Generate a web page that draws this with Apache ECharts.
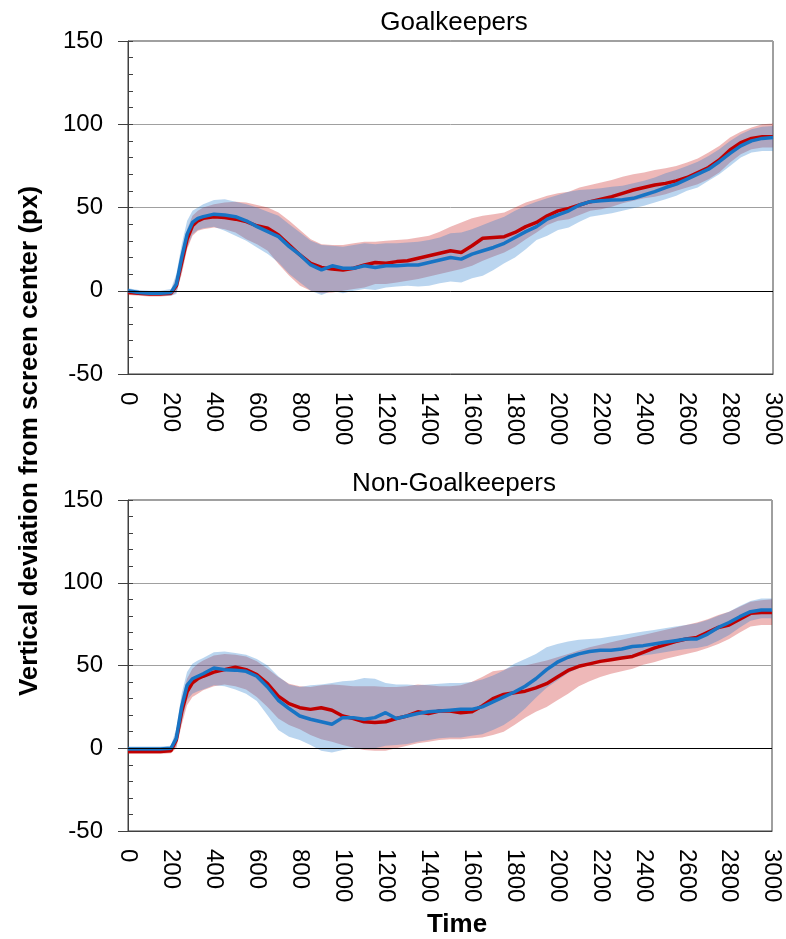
<!DOCTYPE html>
<html>
<head>
<meta charset="utf-8">
<script src="https://cdn.jsdelivr.net/npm/echarts@6/dist/echarts.min.js"></script>
<style>html,body{margin:0;padding:0;background:#fff;}#c{width:786px;height:939px;}</style>
</head>
<body>
<div id="c"></div>
<script>
// time points (ms)
var times = [0,50,100,150,200,225,250,275,300,325,350,
  400,450,500,550,600,650,700,750,800,850,900,950,1000,1050,1100,1150,1200,1250,1300,1350,1400,1450,1500,1550,1600,1650,1700,1750,1800,1850,1900,1950,2000,2050,2100,2150,2200,2250,2300,2350,2400,2450,2500,2550,2600,2650,2700,2750,2800,2850,2900,2950,3000];

var yTicks = [-50, 0, 50, 100, 150];
var xTickStep = 200;
var panelTitles = ['Goalkeepers', 'Non-Goalkeepers'];

// Goalkeepers
var gkRedMean = [-1,-1.5,-2,-2,-1.5,3,17,31,39,42,43.5,
  44.5,44,43,41.5,39,37.5,33.5,27.5,21.5,16.5,14,13,12.5,13.5,15.5,17,16.5,17.5,18,19.5,21,22.5,24,23,27,31.5,32,32.5,35,38.5,41,45,48,49.5,51.5,53.5,55,56.5,58.5,60.5,62,63.5,64.5,66,68,71,74,78.5,84.5,89,91.5,92.5,92.5];
var gkRedUpper = [0.5,0,-0.5,-0.5,0,8,24,37,45,48,50,
  52,53,53.5,53,51.5,50,47,42,36.5,31,28,27.5,27.5,28.5,29.5,29.5,30,30.5,31,32,33,35.5,38.5,41,43.5,45,46,47,50,53,55,57,58.5,59.5,62,63.5,65,66.5,68.5,70,71,72.5,73.5,75,77,79.5,83,87,92,95.5,98,100,100.5];
var gkRedLower = [-2.5,-3,-3.5,-3.5,-3,-1,10,25,33,36,37,
  38,37,35,31,28,24,16,9,3,0,-1.5,-1,0,1,2,4,4,5,6,7,8.5,10,11.5,13,15,18,20.5,23,26.5,31,35,39.5,42,43,45.5,48,49,50.5,52.5,54,55.5,56.5,58,60,62,64,67,71,77,82,85,86,86];
var gkBlueMean = [0,-1,-1.5,-1.5,-1,4,20,34,41,43.5,44.5,
  46,45.5,44.5,42,38.5,35.5,32.5,26.5,21.5,15.5,12.5,15,13.5,13.5,15,14,15,15,15.5,15.5,17,18.5,20,19,22,24,26,28.5,32,35.5,38.5,43,45.5,48,51.5,53.5,54,54.5,54.6,55.5,57.5,59.5,62,64,67,70,73,77.5,82.5,87,90,91.5,92];
var gkBlueUpper = [1.5,0.5,0,0,1,10,28,42,48,50,52,
  54.5,55,53.5,52,50,47.5,45,40,35,30,27.5,27,26.5,27.5,28.5,28,28.5,28.5,29,29.5,30.5,32,34.5,35,37,39.5,42,44.5,48,51,53.5,55.5,57.5,59.5,60.5,61,61.5,62.5,63,64.5,66,68,70.5,72.5,75,77.5,81,85,90,94,97,98.5,99];
var gkBlueLower = [-1.5,-2.5,-3,-3,-3,-2,12,26,34,36.5,37.5,
  38.5,36,33,30,26,22,17,10,5,0,-2.5,0,-1.5,0,1,0.5,2,2.5,3,2.5,3,4.5,5.5,5,7.5,9,12.5,16.5,20,25,30.5,33,36.5,38,41.5,44.5,45.5,46.5,48,49.5,51,53,55,57,60,62,66,70,75,80,83,84,84];

// Non-Goalkeepers
var ngRedMean = [-2,-2,-2,-2,-1.5,5,22,34,39.5,42,43.5,
  46,47.5,49,47.5,44.5,39,31.5,27,24.5,23.5,24.5,23,19.5,18,16,15.5,16,18,19.5,22,21,22.5,22.5,21.5,22,25.5,30,32.5,33.5,34.5,36.5,39,43,47,49.5,51,52.5,53.5,54.5,55.5,58,60.5,62.5,64.5,66,67,70,73,74.5,78,81.5,82,82];
var ngRedUpper = [-0.5,-0.5,-0.5,-0.5,0,10,30,42,48,51,53,
  56,57,56.5,55.5,52.5,48,43,39,37.5,37,38,38.5,38,37.5,37.5,37.5,37,37,37.5,38.5,38,37.5,37.5,38,40,43,46.5,47.5,49.5,50,51.5,53,55,57,59,61,62.5,64,65.5,67,68.5,70,71.5,73,74.5,76,78,80.5,82.5,85.5,88.5,89.5,90];
var ngRedLower = [-3.5,-3.5,-3.5,-3.5,-3,0,14,26,31,33,35,
  37.5,38.5,37.5,35.5,31,25,18,14,11.5,8,5.5,4,2,0.5,-1,-1.5,-1.5,0,1.5,3,4,5,5.5,5.5,6,6.5,8,10,14,18.5,22,25,29,33,37.5,40.5,43,45,46.5,48,50.5,52,54,55.5,57,58.5,60.5,63,66,70,73.5,74.5,74.5];
var ngBlueMean = [-0.5,-0.5,-0.5,-0.5,0,6,25,38,42,43.5,45,
  48.5,47.5,47.2,46.5,43.5,37,29,24,19.5,17.5,16,14.5,18.5,18.5,17.5,18.5,21.5,18,19.5,21,22,22.5,23,23.5,23.5,25,28,31,34,37.5,42,47.5,52,55,57,58.5,59.2,59.2,60,61.5,62,63,64,65,66,66,69,73,76,79.5,82.5,83.5,83.6];
var ngBlueUpper = [1,1,1,1,1.5,12,33,46,51,53,54.5,
  58,58.5,57.5,56.5,54,50,43.5,38.5,37,38,38.5,39.5,40.5,41,42.5,42,39.5,38.5,38.5,38,38.5,39,39.5,39.5,40,41.5,44,47,51,54,57,61,63,64.5,65.5,66,66.5,67.5,68.5,69.5,70.5,71.5,72.5,73.5,74.5,75.5,77.5,80,82.5,86,89,90.5,90.5];
var ngBlueLower = [-2,-2,-2,-2,-1.5,1,16,29,33,34.5,35.5,
  38,37.5,35.5,33,28.5,20,11,7,5,2,-1.5,-2.5,-1,0,-0.5,0,1.5,2,2.5,4,5,6,6.5,6.5,7.5,8.5,11,14,18.5,24,30.5,36.5,41,45.5,48.5,50.5,52,53,54,55,56,57,58,59,60,60.5,62,65,68.5,73,77,78.5,78.5];

var RED = '#C00000', BLUE = '#1874C4';
var RED_BAND = 'rgba(200,20,20,0.30)', BLUE_BAND = 'rgba(40,125,205,0.32)';
var FONT = 'Liberation Sans';

function pairs(arr) { return times.map(function (t, i) { return [t, arr[i]]; }); }

// band drawn as one polygon through the axis scales (api.coord)
function bandSeries(g, up, lo, fill) {
  return {
    type: 'custom', xAxisIndex: g, yAxisIndex: g * 2, silent: true, animation: false,
    data: [[0]],
    renderItem: function (params, api) {
      var pts = [];
      for (var i = 0; i < times.length; i++) pts.push(api.coord([times[i], up[i]]));
      for (var j = times.length - 1; j >= 0; j--) pts.push(api.coord([times[j], lo[j]]));
      return { type: 'polygon', shape: { points: pts }, style: { fill: fill, stroke: null } };
    }
  };
}

function panelSeries(g, rMean, rUp, rLo, bMean, bUp, bLo) {
  var base = { type: 'line', xAxisIndex: g, yAxisIndex: g * 2, symbol: 'none', silent: true, animation: false };
  return [
    Object.assign({}, base, { name: 'zero' + g, data: [], lineStyle: { opacity: 0 },
      markLine: { silent: true, symbol: 'none', label: { show: false }, animation: false,
        lineStyle: { color: '#000', type: 'solid', width: 1 }, data: [{ yAxis: 0 }] } }),
    bandSeries(g, rUp, rLo, RED_BAND),
    bandSeries(g, bUp, bLo, BLUE_BAND),
    Object.assign({}, base, { name: 'rm' + g, data: pairs(rMean), lineStyle: { color: RED, width: 3.5 } }),
    Object.assign({}, base, { name: 'bm' + g, data: pairs(bMean), lineStyle: { color: BLUE, width: 3.5 } })
  ];
}

var grids = [
  { left: 128, top: 41, width: 645, height: 333, show: true, borderColor: '#404040', borderWidth: 1 },
  { left: 128, top: 500, width: 644, height: 332, show: true, borderColor: '#404040', borderWidth: 1 }
];

function xAxisFor(g, withName) {
  var ax = {
    type: 'value', gridIndex: g, min: 0, max: 3000, interval: xTickStep,
    axisLine: { show: true, onZero: false, lineStyle: { color: '#404040', width: 1 } },
    axisTick: { show: false },
    splitLine: { show: false },
    axisLabel: { rotate: -90, margin: 18, fontSize: 24, color: '#000', fontFamily: FONT,
      formatter: function (v) { return String(v); } }
  };
  if (withName) {
    ax.name = 'Time';
    ax.nameLocation = 'middle';
    ax.nameGap = 81;
    ax.nameTextStyle = { fontSize: 26, fontWeight: 'bold', color: '#000', fontFamily: FONT, padding: [0, 0, 0, 14] };
  }
  return ax;
}
function yMain(g) {
  return {
    type: 'value', gridIndex: g, min: yTicks[0], max: yTicks[yTicks.length - 1], interval: 50,
    axisLine: { show: true, onZero: false, lineStyle: { color: '#404040', width: 1 } },
    axisTick: { show: true, inside: false, length: 10, lineStyle: { color: '#404040' } },
    splitLine: { show: true, lineStyle: { color: '#a0a0a0', width: 1 } },
    axisLabel: { margin: 25, fontSize: 24, color: '#000', fontFamily: FONT }
  };
}
function yMinor(g) {
  return {
    type: 'value', gridIndex: g, min: -50, max: 150, interval: 10, position: 'left',
    axisLine: { show: false, onZero: false },
    axisTick: { show: true, inside: true, length: 5, lineStyle: { color: '#404040' } },
    splitLine: { show: false },
    axisLabel: { show: false }
  };
}

var option = {
  backgroundColor: '#fff',
  animation: false,
  title: [
    { text: panelTitles[0], left: 449, top: 5, textAlign: 'center',
      textStyle: { fontSize: 26, fontWeight: 'normal', color: '#000', fontFamily: FONT } },
    { text: panelTitles[1], left: 449, top: 466, textAlign: 'center',
      textStyle: { fontSize: 26, fontWeight: 'normal', color: '#000', fontFamily: FONT } }
  ],
  graphic: [{
    type: 'text', x: 30, y: 441, rotation: Math.PI / 2, silent: true,
    style: { text: 'Vertical deviation from screen center (px)', fontSize: 26, fontWeight: 'bold',
      fontFamily: FONT, fill: '#000', align: 'center', verticalAlign: 'middle' }
  }],
  grid: grids,
  xAxis: [xAxisFor(0, false), xAxisFor(1, true)],
  yAxis: [yMain(0), yMinor(0), yMain(1), yMinor(1)],
  series: [].concat(
    panelSeries(0, gkRedMean, gkRedUpper, gkRedLower, gkBlueMean, gkBlueUpper, gkBlueLower),
    panelSeries(1, ngRedMean, ngRedUpper, ngRedLower, ngBlueMean, ngBlueUpper, ngBlueLower)
  )
};

var chart = echarts.init(document.getElementById('c'), null, { renderer: 'canvas' });
chart.setOption(option);
</script>
</body>
</html>
